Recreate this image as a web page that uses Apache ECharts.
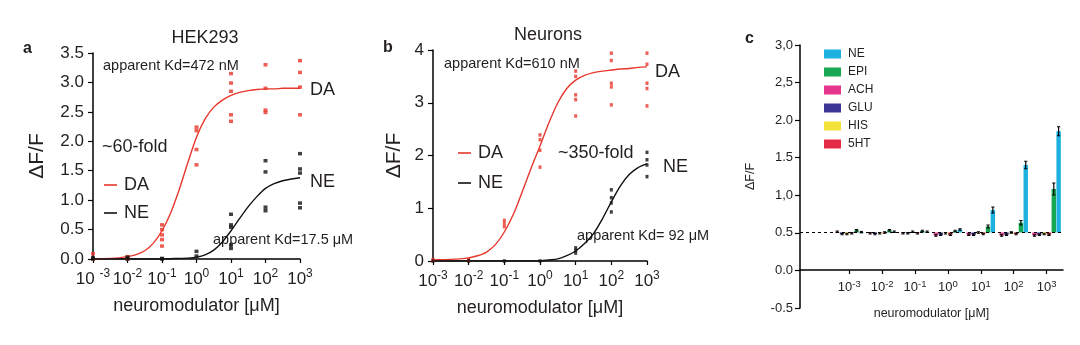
<!DOCTYPE html>
<html>
<head>
<meta charset="utf-8">
<script src="https://cdn.jsdelivr.net/npm/echarts@6/dist/echarts.min.js"></script>
<style>
html,body{margin:0;padding:0;background:#fff;}
#chart{width:1080px;height:345px;}
</style>
</head>
<body>
<div id="chart"></div>
<script>
// ---------- DATA ----------
const concentrations = [0.001, 0.01, 0.1, 1, 10, 100, 1000]; // µM
const decadeExps = ['-3', '-2', '-1', '0', '1', '2', '3'];

// Panel a (HEK293) replicate points per concentration
const hekDA = [[0.09, 0.0], [0.04, 0.0], [0.58, 0.5, 0.41, 0.33, 0.22], [2.24, 2.18, 1.86, 1.6],
  [3.15, 2.99, 2.85, 2.45, 2.34], [3.3, 2.9, 2.53, 2.49], [3.37, 3.17, 2.92, 2.45]];
const hekNE = [[0.02, 0.0], [0.03, 0.0], [0.01, 0.0], [0.13, 0.05],
  [0.76, 0.58, 0.54, 0.24, 0.18], [1.67, 1.48, 0.88, 0.82], [1.79, 1.53, 1.46, 0.95, 0.87]];

// Panel b (Neurons) replicate points
const neuDA = [[0.03, 0.01], [0.03, 0.01], [0.77, 0.71, 0.65], [2.39, 2.3, 2.1, 1.78],
  [3.6, 3.5, 3.15, 3.06, 2.75], [3.94, 3.8, 3.37, 3.3, 2.96], [3.94, 3.73, 3.37, 3.27, 2.94]];
const neuNE = [[0.0], [0.0], [0.0], [0.0], [0.25, 0.2, 0.15], [1.35, 1.2, 1.1, 0.93], [2.06, 1.92, 1.82, 1.6]];

// Fitted curves, read at quarter-decade steps (exponent of µM)
const fitExp = [-3, -2.75, -2.5, -2.25, -2, -1.75, -1.5, -1.25, -1, -0.75, -0.5, -0.25, 0,
  0.25, 0.5, 0.75, 1, 1.25, 1.5, 1.75, 2, 2.25, 2.5, 2.75, 3];
const hekDAfit = [0.0, 0.005, 0.01, 0.02, 0.04, 0.075, 0.14, 0.27, 0.48, 0.78, 1.18, 1.64, 2.07,
  2.38, 2.58, 2.7, 2.78, 2.83, 2.86, 2.88, 2.89, 2.89, 2.9, 2.9, 2.9];
const hekNEfit = [0, 0, 0, 0, 0, 0, 0, 0, 0, 0.005, 0.01, 0.015, 0.03,
  0.07, 0.15, 0.29, 0.48, 0.69, 0.89, 1.06, 1.2, 1.28, 1.33, 1.36, 1.38];
const neuDAfit = [0.02, 0.025, 0.03, 0.04, 0.06, 0.1, 0.17, 0.31, 0.55, 0.88, 1.31, 1.76, 2.18,
  2.62, 3.0, 3.27, 3.43, 3.52, 3.57, 3.6, 3.62, 3.64, 3.65, 3.67, 3.68];
const neuNEfit = [0, 0, 0, 0, 0, 0, 0, 0, 0, 0, 0, 0, 0.005,
  0.02, 0.04, 0.1, 0.19, 0.33, 0.52, 0.8, 1.12, 1.42, 1.64, 1.77, 1.84];

const aYTicks = ['0.0', '0.5', '1.0', '1.5', '2.0', '2.5', '3.0', '3.5'];
const bYTicks = ['0', '1', '2', '3', '4'];

// Panel c (selectivity)
const cCategoryExps = ['', '-3', '-2', '-1', '0', '1', '2', '3'];
const cYTicks = ['-0.5', '0.0', '0.5', '1,0', '1.5', '2.0', '2,5', '3,0'];
const cBaseline = 0.5;
const cBarOrder = ['ACH', 'GLU', 'HIS', '5HT', 'EPI', 'NE'];
const cLegendOrder = ['NE', 'EPI', 'ACH', 'GLU', 'HIS', '5HT'];
const cACH = [0.51, 0.49, 0.49, 0.46, 0.47, 0.46, 0.46];
const cGLU = [0.48, 0.48, 0.49, 0.47, 0.47, 0.47, 0.47];
const cHIS = [0.48, 0.49, 0.51, 0.49, 0.50, 0.50, 0.48];
const c5HT = [0.49, 0.50, 0.49, 0.47, 0.48, 0.48, 0.47];
const cEPI = [0.53, 0.53, 0.52, 0.52, 0.58, 0.63, 1.08];
const cNE  = [0.505, 0.51, 0.51, 0.54, 0.80, 1.40, 1.85];
const cACHerr = [0.01, 0.01, 0.01, 0.01, 0.01, 0.01, 0.01];
const cGLUerr = [0.01, 0.01, 0.01, 0.01, 0.01, 0.01, 0.01];
const cHISerr = [0.01, 0.01, 0.01, 0.01, 0.01, 0.01, 0.01];
const c5HTerr = [0.01, 0.01, 0.01, 0.01, 0.01, 0.01, 0.01];
const cEPIerr = [0.01, 0.01, 0.01, 0.01, 0.02, 0.03, 0.08];
const cNEerr  = [0.01, 0.01, 0.01, 0.01, 0.04, 0.05, 0.06];

// ---------- STYLE ----------
const FONT = "'Liberation Sans', Arial, Helvetica, sans-serif";
const TXT = '#231f20';
const RED = '#e8372c';
const BLK = '#111111';
const cColors = { NE: '#1db1e0', EPI: '#19a652', ACH: '#e5358f', GLU: '#3b3594', HIS: '#f3e23a', '5HT': '#e52c46' };
const cValues = { ACH: cACH, GLU: cGLU, HIS: cHIS, '5HT': c5HT, EPI: cEPI, NE: cNE };
const cErrors = { ACH: cACHerr, GLU: cGLUerr, HIS: cHISerr, '5HT': c5HTerr, EPI: cEPIerr, NE: cNEerr };

function points(arr) {
  const out = [];
  arr.forEach((reps, i) => reps.forEach(v => out.push([concentrations[i], v])));
  return out;
}
function curve(vals) { return fitExp.map((e, i) => [Math.pow(10, e), vals[i]]); }

function logLabel(spaceFirst) {
  return function (v) {
    const i = Math.round(Math.log10(v)) + 3;
    const base = (spaceFirst && i === 0) ? '10 ' : '10';
    return '{b|' + base + '}{s|' + decadeExps[i] + '}';
  };
}
const logRich = {
  b: { fontSize: 17, lineHeight: 22, color: TXT, fontFamily: FONT },
  s: { fontSize: 12, lineHeight: 6, verticalAlign: 'top', color: TXT, fontFamily: FONT }
};

function logXAxis(grid, spaceFirst, gap) {
  return {
    gridIndex: grid, type: 'log', logBase: 10, min: 0.001, max: 1000, splitNumber: 6,
    axisLine: { onZero: false, lineStyle: { color: '#000', width: 1.5 } },
    axisTick: { show: true, length: 4, lineStyle: { color: '#000', width: 1.2 } },
    minorTick: { show: false }, splitLine: { show: false },
    axisLabel: { margin: 9, formatter: logLabel(spaceFirst), rich: logRich },
    name: 'neuromodulator [μM]', nameLocation: 'middle', nameGap: gap,
    nameTextStyle: { fontSize: 18, color: TXT, fontFamily: FONT }
  };
}
function valYAxis(grid, max, interval, labels, gap) {
  return {
    gridIndex: grid, type: 'value', min: 0, max: max, interval: interval,
    axisLine: { show: true, onZero: false, lineStyle: { color: '#000', width: 1.5 } },
    axisTick: { show: true, length: 5, lineStyle: { color: '#000', width: 1.2 } },
    splitLine: { show: false },
    axisLabel: { margin: 9, fontSize: 17, color: TXT, fontFamily: FONT,
      formatter: v => labels[Math.round(v / interval)] },
    name: 'ΔF/F', nameLocation: 'middle', nameRotate: 90, nameGap: gap,
    nameTextStyle: { fontSize: 21, color: TXT, fontFamily: FONT }
  };
}

const series = [
  { type: 'line', name: 'DA fit', xAxisIndex: 0, yAxisIndex: 0, data: curve(hekDAfit), smooth: 0.3,
    symbol: 'none', color: RED, lineStyle: { color: RED, width: 1.4 }, z: 2 },
  { type: 'line', name: 'NE fit', xAxisIndex: 0, yAxisIndex: 0, data: curve(hekNEfit), smooth: 0.3,
    symbol: 'none', color: BLK, lineStyle: { color: BLK, width: 1.4 }, z: 2 },
  { type: 'scatter', name: 'DA pts a', xAxisIndex: 0, yAxisIndex: 0, data: points(hekDA),
    symbol: 'rect', symbolSize: [4, 3.5], itemStyle: { color: RED }, z: 3 },
  { type: 'scatter', name: 'NE pts a', xAxisIndex: 0, yAxisIndex: 0, data: points(hekNE),
    symbol: 'rect', symbolSize: [4, 3.5], itemStyle: { color: BLK }, z: 3 },
  { type: 'line', name: 'DA fit', xAxisIndex: 1, yAxisIndex: 1, data: curve(neuDAfit), smooth: 0.3,
    symbol: 'none', color: RED, lineStyle: { color: RED, width: 1.4 }, z: 2 },
  { type: 'line', name: 'NE fit', xAxisIndex: 1, yAxisIndex: 1, data: curve(neuNEfit), smooth: 0.3,
    symbol: 'none', color: BLK, lineStyle: { color: BLK, width: 1.4 }, z: 2 },
  { type: 'scatter', name: 'DA pts b', xAxisIndex: 1, yAxisIndex: 1, data: points(neuDA),
    symbol: 'rect', symbolSize: [3, 3.5], itemStyle: { color: RED }, z: 3 },
  { type: 'scatter', name: 'NE pts b', xAxisIndex: 1, yAxisIndex: 1, data: points(neuNE),
    symbol: 'rect', symbolSize: [3, 3.5], itemStyle: { color: BLK }, z: 3 },
  { type: 'line', name: 'baseline', xAxisIndex: 3, yAxisIndex: 3, data: [], silent: true,
    markLine: { silent: true, symbol: 'none', label: { show: false },
      lineStyle: { color: '#000', width: 1, type: [3, 3] }, data: [{ yAxis: cBaseline }] } }
];

const nBars = cBarOrder.length;
cBarOrder.forEach((name, k) => {
  series.push({
    type: 'custom', name: name, xAxisIndex: 3, yAxisIndex: 3,
    itemStyle: { color: cColors[name] },
    encode: { x: 0, y: 1 },
    clip: false,
    data: cValues[name].map((v, i) => [i + 1, v, cErrors[name][i]]),
    renderItem: function (params, api) {
      const ci = api.value(0), v = api.value(1), e = api.value(2);
      const catW = api.size([1, 0])[0];
      const slot = catW * 0.88 / nBars;
      const w = slot * 0.92;
      const base = api.coord([ci, cBaseline]);
      const top = api.coord([ci, v]);
      const cx = base[0] + (k - (nBars - 1) / 2) * slot;
      const hi = api.coord([ci, v + e])[1];
      const lo = api.coord([ci, v - e])[1];
      const cap = 1.6;
      return {
        type: 'group', children: [
          { type: 'rect', shape: { x: cx - w / 2, y: Math.min(base[1], top[1]), width: w, height: Math.max(Math.abs(base[1] - top[1]), 0.8) },
            style: { fill: api.visual('color') } },
          { type: 'line', shape: { x1: cx, y1: lo, x2: cx, y2: hi }, style: { stroke: '#000', lineWidth: 1.2 } },
          { type: 'line', shape: { x1: cx - cap, y1: hi, x2: cx + cap, y2: hi }, style: { stroke: '#000', lineWidth: 1 } },
          { type: 'line', shape: { x1: cx - cap, y1: lo, x2: cx + cap, y2: lo }, style: { stroke: '#000', lineWidth: 1 } }
        ]
      };
    }
  });
});

function txt(x, y, text, size, align, bold) {
  return { type: 'text', x: x, y: y, silent: true,
    style: { text: text, font: (bold ? 'bold ' : '') + size + 'px ' + FONT, fill: TXT,
      textAlign: align || 'left', textVerticalAlign: 'middle' } };
}

const option = {
  animation: false,
  backgroundColor: '#fff',
  textStyle: { fontFamily: FONT },
  grid: [
    { left: 93, top: 53, width: 207, height: 206, outerBoundsMode: 'none', containLabel: false },
    { left: 433, top: 50, width: 214, height: 211, outerBoundsMode: 'none', containLabel: false },
    // panel c: full y range (-0.5..3) for the value axis
    { left: 800, top: 45, width: 263, height: 263, outerBoundsMode: 'none', containLabel: false },
    // panel c: 0..3 part, holds the category axis on its bottom edge (value 0) and the bars
    { left: 800, top: 45, width: 263, height: 225, outerBoundsMode: 'none', containLabel: false }
  ],
  xAxis: [
    logXAxis(0, true, 38),
    logXAxis(1, false, 38),
    { gridIndex: 2, type: 'value', min: 0, max: 1, show: false },
    {
      gridIndex: 3, type: 'category', data: cCategoryExps, boundaryGap: true, position: 'bottom',
      axisLine: { onZero: false, lineStyle: { color: '#000', width: 1.5 } },
      axisTick: { show: true, alignWithLabel: true, length: 4, interval: (idx) => idx > 0,
        lineStyle: { color: '#000', width: 1.2 } },
      axisLabel: { interval: 0, margin: 9,
        formatter: (v, idx) => idx === 0 ? '' : '{b|10}{s|' + cCategoryExps[idx] + '}',
        rich: {
          b: { fontSize: 13, lineHeight: 16, color: TXT, fontFamily: FONT },
          s: { fontSize: 9.5, lineHeight: 4, verticalAlign: 'top', color: TXT, fontFamily: FONT }
        } },
      name: 'neuromodulator [μM]', nameLocation: 'middle', nameGap: 37,
      nameTextStyle: { fontSize: 12.5, color: TXT, fontFamily: FONT }
    }
  ],
  yAxis: [
    valYAxis(0, 3.5, 0.5, aYTicks, 45),
    valYAxis(1, 4, 1, bYTicks, 28),
    {
      gridIndex: 2, type: 'value', min: -0.5, max: 3, interval: 0.5,
      axisLine: { show: true, onZero: false, lineStyle: { color: '#000', width: 1.5 } },
      axisTick: { show: true, length: 5, lineStyle: { color: '#000', width: 1.2 } },
      splitLine: { show: false },
      axisLabel: { margin: 7, fontSize: 13, color: TXT, fontFamily: FONT,
        formatter: v => cYTicks[Math.round((v + 0.5) / 0.5)] },
      name: 'ΔF/F', nameLocation: 'middle', nameRotate: 90, nameGap: 43,
      nameTextStyle: { fontSize: 12.5, color: TXT, fontFamily: FONT }
    },
    { gridIndex: 3, type: 'value', min: 0, max: 3, show: false, splitLine: { show: false } }
  ],
  legend: [
    { data: ['DA fit', 'NE fit'], orient: 'vertical', left: 104, top: 175, padding: 0,
      itemGap: 8, itemWidth: 13, itemHeight: 1.6, icon: 'rect',
      formatter: n => n.replace(' fit', ''), selectedMode: false,
      textStyle: { fontSize: 18, lineHeight: 20, color: TXT, fontFamily: FONT, padding: [0, 0, 0, 2] } },
    { data: ['DA fit', 'NE fit'], orient: 'vertical', left: 458, top: 143, padding: 0,
      itemGap: 10, itemWidth: 13, itemHeight: 1.6, icon: 'rect',
      formatter: n => n.replace(' fit', ''), selectedMode: false,
      textStyle: { fontSize: 18, lineHeight: 20, color: TXT, fontFamily: FONT, padding: [0, 0, 0, 2] } },
    { data: cLegendOrder, orient: 'vertical', left: 824, top: 47, padding: 0,
      itemGap: 4, itemWidth: 17, itemHeight: 9, icon: 'rect', selectedMode: false,
      textStyle: { fontSize: 12, lineHeight: 14, color: TXT, fontFamily: FONT, padding: [0, 0, 0, 2] } }
  ],
  graphic: [
    txt(23, 49, 'a', 16, 'left', true),
    txt(205, 38, 'HEK293', 18, 'center'),
    txt(103, 66, 'apparent Kd=472 nM', 14.5),
    txt(310, 90, 'DA', 18),
    txt(310, 182, 'NE', 18),
    txt(102, 147, '~60-fold', 18),
    txt(213, 240, 'apparent Kd=17.5 μM', 14.5),
    txt(383, 48, 'b', 16, 'left', true),
    txt(548, 35, 'Neurons', 18, 'center'),
    txt(444, 64, 'apparent Kd=610 nM', 14.5),
    txt(655, 72, 'DA', 18),
    txt(663, 167, 'NE', 18),
    txt(558, 153, '~350-fold', 18),
    txt(577, 236, 'apparent Kd= 92 μM', 14.5),
    txt(745, 39, 'c', 16, 'left', true)
  ],
  series: series
};

const chart = echarts.init(document.getElementById('chart'), null, { renderer: 'canvas' });
chart.setOption(option);
</script>
</body>
</html>
